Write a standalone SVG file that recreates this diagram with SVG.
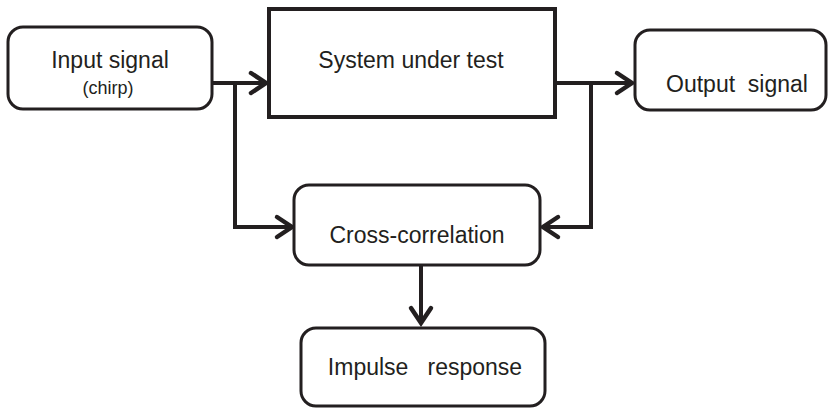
<svg xmlns="http://www.w3.org/2000/svg" width="829" height="409" viewBox="0 0 829 409">
<style>
.box{fill:#fff;stroke:#231f20;stroke-width:3}
.sys{fill:#fff;stroke:#231f20;stroke-width:4}
.lbl{font-family:"Liberation Sans",Arial,sans-serif;font-size:23px;fill:#231f20;text-anchor:middle}
.small{font-size:18px}
.wire{fill:none;stroke:#231f20;stroke-width:4;marker-end:url(#arr)}
</style>
<defs>
<marker id="arr" markerUnits="userSpaceOnUse" markerWidth="30" markerHeight="30" viewBox="-20 -15 30 30" refX="0" refY="0" orient="auto">
<path d="M-15,-10 L0,0 L-15,10" fill="none" stroke="#231f20" stroke-width="4.5" stroke-linejoin="miter" stroke-linecap="round"/>
</marker>
</defs>
<g id="connectors">
<path class="wire" d="M212,83 H266"/>
<path class="wire" d="M235,83 V227 H292"/>
<path class="wire" d="M555,83 H632"/>
<path class="wire" d="M591,83 V227 H543"/>
<path class="wire" d="M421,265 V323"/>
</g>
<g id="input">
<rect class="box" x="8" y="27" width="204" height="82" rx="15"/>
<text class="lbl" x="110" y="68">Input signal</text>
<text class="lbl small" x="108" y="94">(chirp)</text>
</g>
<g id="system">
<rect class="sys" x="269" y="9" width="286" height="108"/>
<text class="lbl" x="411" y="68">System under test</text>
</g>
<g id="output">
<rect class="box" x="635" y="30" width="191" height="80" rx="15"/>
<text class="lbl" x="737" y="92" xml:space="preserve">Output  signal</text>
</g>
<g id="xcorr">
<rect class="box" x="294" y="185" width="246" height="80" rx="15"/>
<text class="lbl" x="417" y="243">Cross-correlation</text>
</g>
<g id="impulse">
<rect class="box" x="301" y="328" width="244" height="78" rx="15"/>
<text class="lbl" x="425" y="375" xml:space="preserve">Impulse   response</text>
</g>
</svg>
